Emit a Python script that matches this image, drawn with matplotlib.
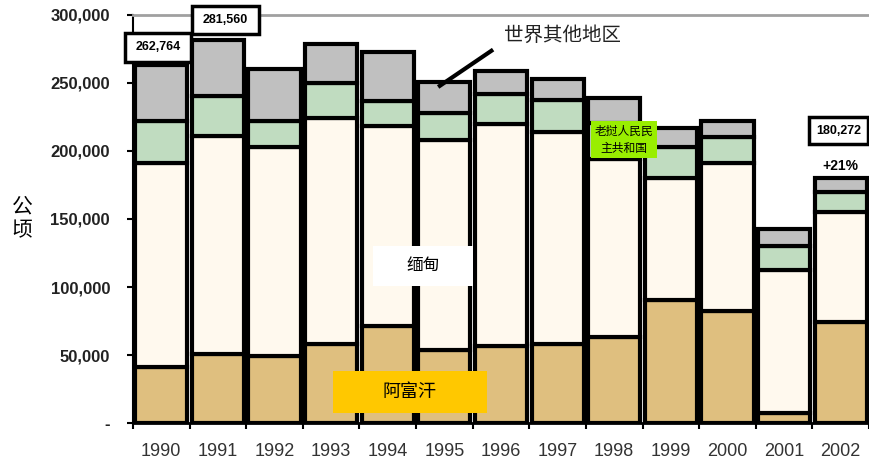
import numpy as np
import matplotlib.pyplot as plt
from matplotlib.patches import Rectangle

plt.rcParams['font.family'] = ['Liberation Sans', 'Noto Sans CJK SC', 'DejaVu Sans']

years = ['1990', '1991', '1992', '1993', '1994', '1995', '1996',
         '1997', '1998', '1999', '2000', '2001', '2002']
afghanistan = [41300, 50800, 49300, 58300, 71470, 53759, 56824,
               58416, 63674, 90583, 82171, 7606, 74100]
myanmar = [150100, 160000, 153700, 165800, 146600, 154070, 163000,
           155150, 130300, 89500, 108700, 105000, 81400]
laos = [30580, 29625, 19190, 26040, 18520, 19650, 21601,
        24082, 26837, 22543, 19052, 17255, 14000]
rest = [40784, 41135, 37800, 28000, 36000, 23000, 17000,
        15400, 18000, 14000, 12000, 13000, 10772]
yticks = [0, 50000, 100000, 150000, 200000, 250000, 300000]
ytick_labels = ['-', '50,000', '100,000', '150,000', '200,000', '250,000', '300,000']

series = [afghanistan, myanmar, laos, rest]
colors = ['#DFBF7F', '#FFF9EE', '#C0DCC0', '#C0C0C0']

fig = plt.figure(figsize=(8.69, 4.63), dpi=100)
ax = fig.add_axes([133 / 869, 1 - 423.3 / 463, 1 - 133 / 869, (423.3 - 14.7) / 463])

x = np.arange(len(years))
bottom = np.zeros(len(years))
for vals, col in zip(series, colors):
    ax.bar(x, vals, width=0.92, bottom=bottom, color=col,
           edgecolor='black', linewidth=3, zorder=2)
    bottom += np.array(vals)

ax.set_xlim(-0.5, 12.5 - 0.09)
ax.set_ylim(0, 300000)

# ticks
ax.set_yticks(yticks)
ax.set_yticklabels(ytick_labels, fontsize=12, fontweight='bold', color='#222222')
ax.tick_params(axis='y', direction='out', length=4.5, width=1.5, pad=12)
ax.set_xticks(np.arange(-0.5, 13, 1))
ax.set_xticklabels([])
ax.tick_params(axis='x', which='major', direction='out', length=4.5, width=1.5)
ax.set_xticks(x, minor=True)
ax.set_xticklabels(years, minor=True, fontsize=13, color='#333333')
ax.tick_params(axis='x', which='minor', length=0, pad=14)

for side in ['right']:
    ax.spines[side].set_visible(False)
ax.spines['top'].set_color('#A0A0A0')
ax.spines['top'].set_linewidth(2)
ax.spines['left'].set_linewidth(1.5)
ax.spines['bottom'].set_linewidth(2)


def box(cx, cy, w, h, text, fc, ec=None, lw=0, **kw):
    ax.add_patch(Rectangle((cx - w / 2, cy - h / 2), w, h, facecolor=fc,
                           edgecolor=ec if ec else fc, linewidth=lw,
                           zorder=5, clip_on=False))
    ax.text(cx, cy, text, ha='center', va='center', zorder=6, **kw)


cjk = ['Noto Sans CJK SC', 'DejaVu Sans']

# total labels
box(-0.06, 276100, 1.18, 21000, '262,764', 'white', 'black', 2.5,
    fontsize=9, fontweight='bold')
box(1.13, 296000, 1.18, 21000, '281,560', 'white', 'black', 2.5,
    fontsize=9, fontweight='bold')
box(11.96, 214750, 1.05, 20000, '180,272', 'white', 'black', 2.5,
    fontsize=9, fontweight='bold')
ax.text(11.99, 189000, '+21%', ha='center', va='center', fontsize=10,
        fontweight='bold', zorder=6)

# country labels
box(4.39, 23000, 2.72, 30800, '阿富汗', '#FFC800', fontsize=13, family=cjk)
box(4.62, 115600, 1.77, 29400, '缅甸', 'white', fontsize=12, family=cjk)
box(8.17, 208200, 1.17, 27200, '老挝人民民\n主共和国', '#99EE00',
    fontsize=8.5, family=cjk, linespacing=1.4)

ax.text(7.08, 284700, '世界其他地区', ha='center', va='center',
        fontsize=14, family=cjk, color='#222222', zorder=6)
ax.plot([4.92, 5.83], [247800, 273500], color='black', linewidth=3,
        zorder=6, clip_on=False)

fig.text(22 / 869, 1 - 218 / 463, '公\n顷', ha='center', va='center',
         fontsize=15, family=cjk, linespacing=1.1)

fig.savefig('out.png', dpi=100)
